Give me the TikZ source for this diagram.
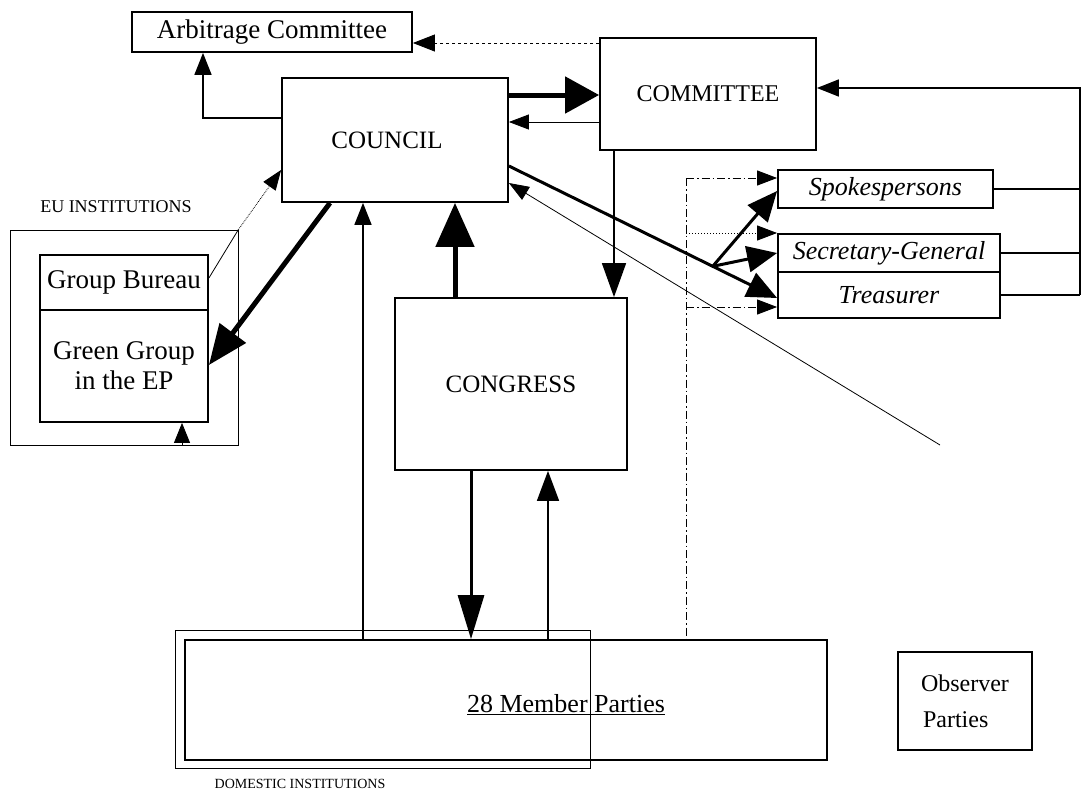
\documentclass[tikz,border=0pt]{standalone}
\usepackage{fontspec}
\setmainfont{Liberation Serif}
\usetikzlibrary{arrows.meta,calc}
\begin{document}
\begin{tikzpicture}[x=1pt,y=-1pt,
  box/.style={draw, line width=1.8pt, inner sep=0pt, align=center},
  thinbox/.style={draw, line width=0.8pt, inner sep=0pt},
  fs/.style={font=\fontsize{#1}{30}\selectfont},
  hugetip/.style={-{Triangle[length=44pt,width=38pt]}},
  bigtip/.style={-{Triangle[length=34pt,width=36pt]}},
  midtip/.style={-{Triangle[length=30pt,width=22pt]}},
  forktip/.style={-{Triangle[length=30pt,width=26pt]}},
  smalltip/.style={-{Triangle[length=22pt,width=17pt]}},
  tinytip/.style={-{Triangle[length=20pt,width=15pt]}},
  heavy/.style={line width=5pt},
  medium/.style={line width=3pt},
  light/.style={line width=1.6pt},
  hair/.style={line width=0.8pt},
  dashdot/.style={line width=1pt, dash pattern=on 8pt off 3pt on 1.5pt off 3pt},
  lbl/.style={inner sep=0pt}
]
\useasboundingbox (0,0) rectangle (1085,793);
\fill[white] (0,0) rectangle (1085,793);

% grouping frames
\node[thinbox, minimum width=228pt, minimum height=215pt] (euframe) at (124,337.5) {};
\node[thinbox, minimum width=415pt, minimum height=138pt] (domframe) at (382.5,699) {};

% organs
\node[box, fs=27, minimum width=280pt, minimum height=40pt] (arb) at (272,32) {Arbitrage Committee};
\node[box, fs=25, minimum width=226pt, minimum height=124pt] (council) at (395,140) {\hspace*{-16pt}COUNCIL};
\node[box, fs=24, minimum width=216pt, minimum height=112pt] (committee) at (708,94) {COMMITTEE};
\node[box, fs=25, minimum width=232pt, minimum height=172pt] (congress) at (511,384) {CONGRESS};
\node[box, fs=26, minimum width=215pt, minimum height=38pt] (spokes) at (885.5,189) {\itshape Spokespersons};
\node[box, fs=26, minimum width=222pt, minimum height=38pt] (secgen) at (889,253) {\itshape Secretary-General};
\node[box, fs=26, minimum width=222pt, minimum height=46pt] (treas) at (889,295) {\itshape Treasurer};
\node[box, fs=27, minimum width=168pt, minimum height=55pt] (bureau) at (124,282.5) {Group Bureau};
\node[box, fs=27, minimum width=168pt, minimum height=112pt] (green) at (124,366) {Green Group\\in the EP};
\node[box, minimum width=642pt, minimum height=120pt] (member) at (506,700) {};
\node[lbl, fs=26] (membertext) at (566,705) {\underline{28 Member Parties}};
\node[box, font=\fontsize{24}{36}\selectfont, minimum width=134pt, minimum height=98pt, align=left] (observer) at (965,701) {Observer\\\hspace*{2pt}Parties};

% frame captions
\node[lbl, fs=18] (eulabel) at (116,207) {EU INSTITUTIONS};
\node[lbl, fs=14] (domlabel) at (300,784) {DOMESTIC INSTITUTIONS};

% committee refers to the arbitrage committee
\draw[hair, dashed, smalltip] (committee.west |- 0,43) -- (arb.east |- 0,43);
% council refers to the arbitrage committee
\draw[light, smalltip] (council.west |- 0,118) -| (arb.south -| 203,0);

% council and committee
\draw[heavy, bigtip] (council.east |- 0,95) -- (committee.west |- 0,95);
\draw[hair, tinytip] (committee.west |- 0,122) -- (council.east |- 0,122);

% offices report back to the committee
\coordinate (rr) at (1080,88);
\draw[light] (spokes.east) -- (spokes.east -| rr);
\draw[light] (secgen.east) -- (secgen.east -| rr);
\draw[light] (treas.east) -- (treas.east -| rr);
\draw[light, smalltip] (treas.east -| rr) -- (rr) -- (committee.east |- rr);

% council elects the offices
\coordinate (cstart) at (council.east |- 0,166);
\coordinate (tend) at (treas.west |- 0,298);
\coordinate (branch) at ($(cstart)!0.76!(tend)$);
\draw[medium, forktip] (cstart) -- (tend);
\draw[medium, forktip] (branch) -- (spokes.west |- 0,191);
\draw[medium, forktip] (branch) -- (secgen.west |- 0,253);

% member parties reach the offices
\coordinate (dv) at (686,178);
\draw[dashdot] (dv) -- (member.north -| dv);
\draw[dashdot, tinytip] (dv) -- (spokes.west |- dv);
\draw[dashdot, dotted, tinytip] (dv |- 0,233) -- (secgen.west |- 0,233);
\draw[dashdot, tinytip] (dv |- 0,307) -- (treas.west |- 0,307);

% long thin link to the council
\coordinate (far) at (940,445);
\draw[hair, tinytip] (far) -- (council.east |- 0,183);

% council and the group in the EP
\draw[heavy, -{Triangle[length=40pt,width=32pt]}] (council.south -| 330,0) -- (green.east |- 0,365);
\coordinate (eucorner) at (euframe.north east);
\draw[hair] (bureau.east |- 0,278) -- (eucorner);
\draw[hair, densely dotted, tinytip] (eucorner) -- (council.west |- 0,170);
\draw[hair, -{Triangle[length=20pt,width=16pt]}] (euframe.south -| 182,0) -- (green.south -| 182,0);

% member parties, council and congress
\draw[light, smalltip] (member.north -| 363,0) -- (council.south -| 363,0);
\draw[heavy, hugetip] (congress.north -| 455,0) -- (council.south -| 455,0);
\draw[medium, -{Triangle[length=44pt,width=26pt]}] (congress.south -| 471,0) -- (member.north -| 471,0);
\draw[light, midtip] (member.north -| 548,0) -- (congress.south -| 548,0);
\draw[light, -{Triangle[length=34pt,width=24pt]}] (committee.south -| 614,0) -- (congress.north -| 614,0);
\end{tikzpicture}
\end{document}
